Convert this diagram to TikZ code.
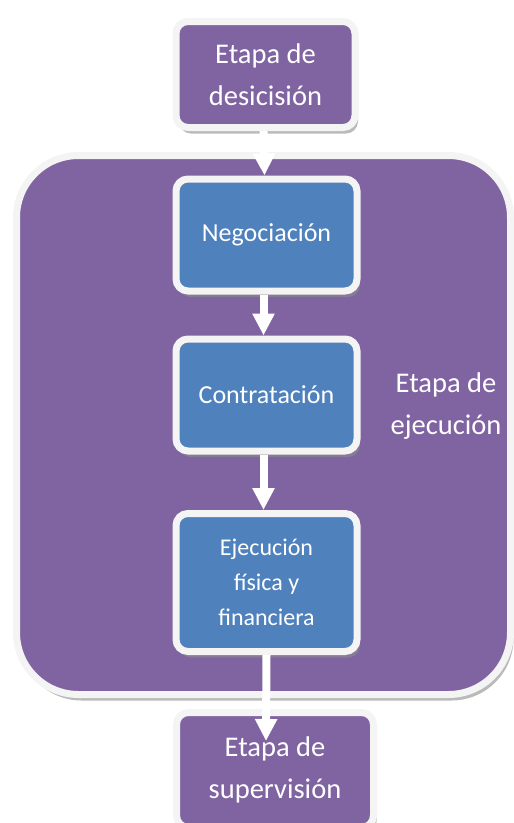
\documentclass[tikz,border=0pt]{standalone}
\usepackage{fontspec}
\setmainfont{Carlito}
\usetikzlibrary{arrows.meta,shadows}
\definecolor{stagepurple}{HTML}{8064A2}
\definecolor{stepblue}{HTML}{4F81BD}
\definecolor{rim}{HTML}{F4F4F4}
\begin{document}
\begin{tikzpicture}[x=1pt,y=-1pt,
  box/.style={draw=rim, rounded corners=12pt, line width=7pt, text=white,
    align=center, inner sep=0pt,
    drop shadow={shadow xshift=3pt, shadow yshift=-6pt, fill=black!45, opacity=0.6}},
  stage/.style={box, fill=stagepurple, font=\fontsize{28.5}{42}\selectfont},
  stepbox/.style={box, fill=stepblue, minimum width=181pt, minimum height=112pt,
    font=\fontsize{26}{36}\selectfont},
  flow/.style={draw=white, line width=8pt, -{Triangle[width=21pt,length=22pt]}}
]
\useasboundingbox (0,0) rectangle (514,823);

% execution stage container
\node[box, fill=stagepurple, rounded corners=62pt, minimum width=494pt,
      minimum height=539pt] (exec) at (263.5,425) {};
\node[text=white, align=center, font=\fontsize{28.5}{42}\selectfont]
      (execlabel) at (446,406) {Etapa de\\ejecución};

% outer stages
\node[stage, minimum width=179pt, minimum height=106pt] (decide) at (265.5,74.5)
      {Etapa de\\desicisión};
\node[stage, minimum width=197pt, minimum height=115pt] (supervise) at (275,770)
      {Etapa de\\supervisión};

% steps inside the execution stage
\node[stepbox] (neg) at (266.5,235) {Negociación};
\node[stepbox] (contr) at (266.5,395) {Contratación};
\node[stepbox, minimum height=138pt, font=\fontsize{24}{35}\selectfont]
      (ejec) at (266.5,582.5) {Ejecución\\física y\\financiera};

% flow arrows
\coordinate (suptip) at (266,741);
\draw[flow] ([xshift=-2pt]decide.south) -- ([xshift=-2pt]neg.north);
\draw[flow] ([xshift=-3pt]neg.south) -- ([xshift=-3pt]contr.north);
\draw[flow] ([xshift=-3pt]contr.south) -- ([xshift=-3pt]ejec.north);
\draw[flow] (ejec.south) -- (suptip);
\end{tikzpicture}
\end{document}
